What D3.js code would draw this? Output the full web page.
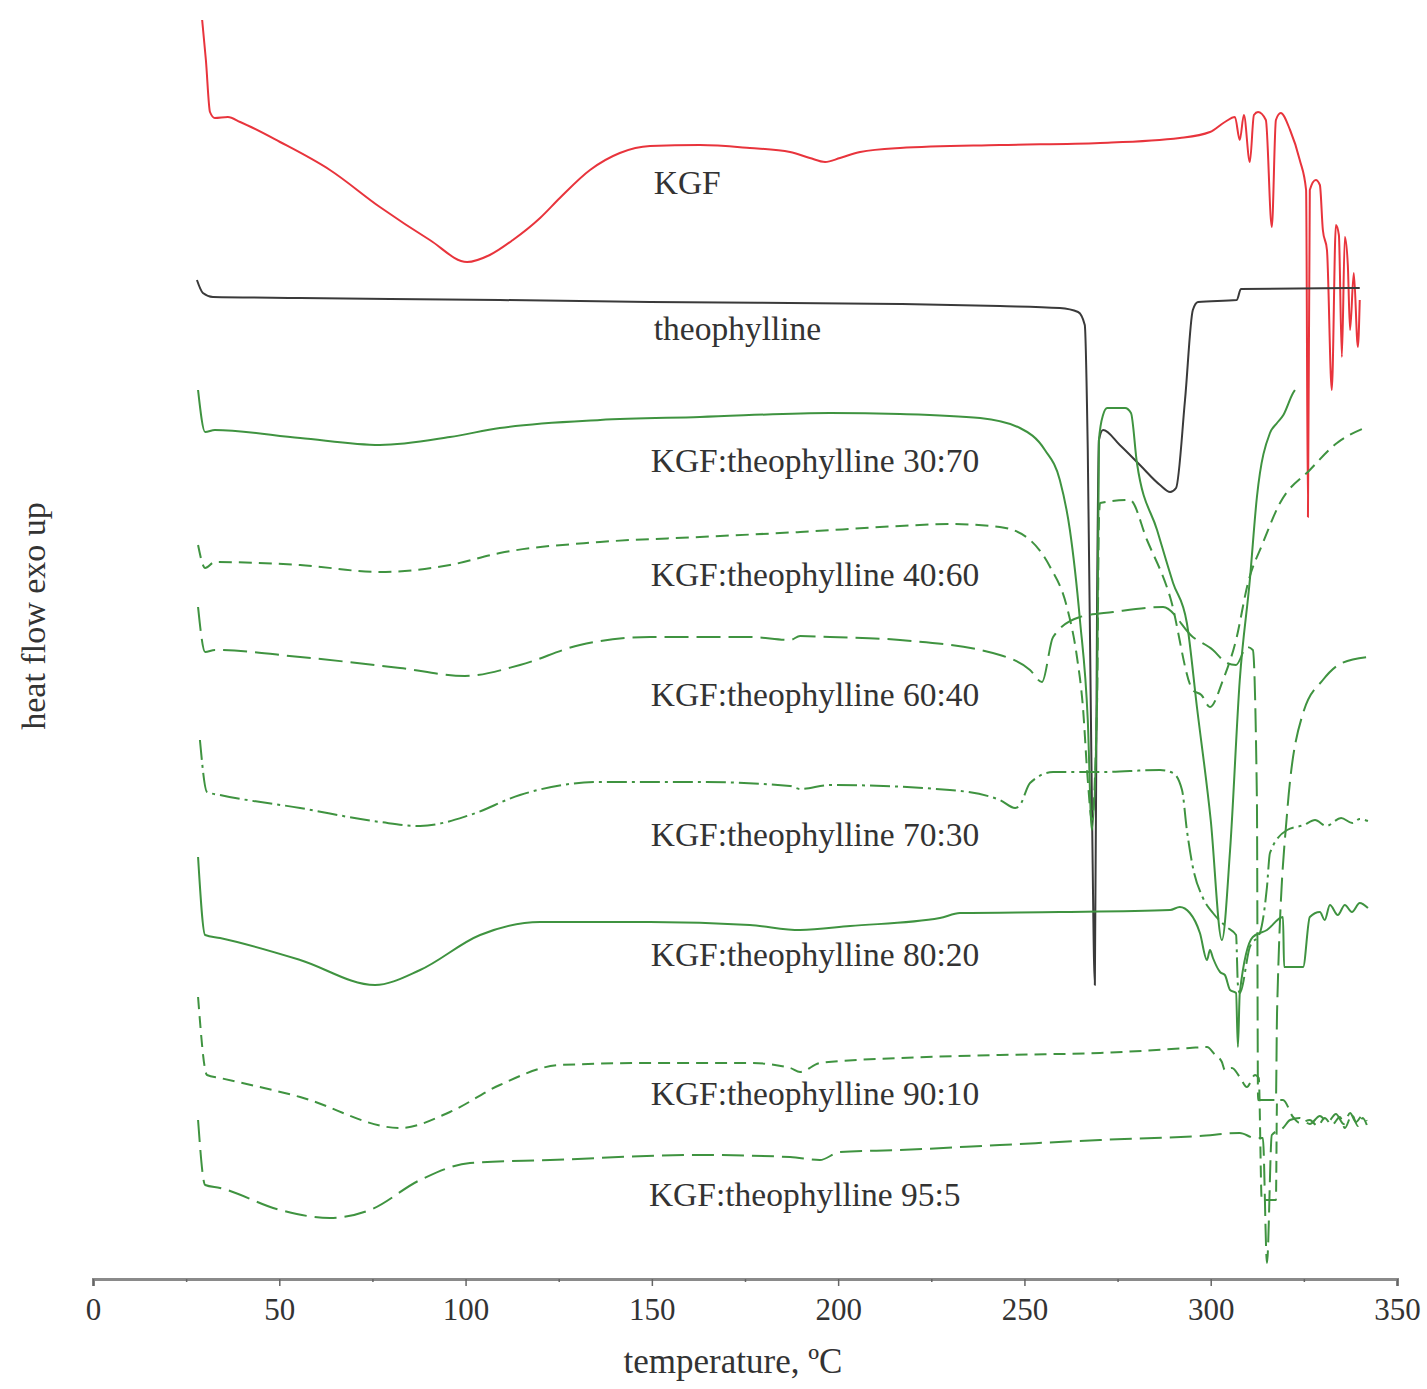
<!DOCTYPE html>
<html>
<head>
<meta charset="utf-8">
<script src="https://cdn.jsdelivr.net/npm/d3@7"></script>
<style>
  html, body { margin: 0; padding: 0; background: #fff; }
  svg { display: block; }
  text { font-family: "Liberation Serif", "Times New Roman", serif; fill: #333; }
</style>
</head>
<body>
<svg id="chart" width="1427" height="1389"></svg>
<script>
// DSC thermograms, heat flow (a.u., curves stacked, exo up) vs temperature (°C)
const xTicks = [0, 50, 100, 150, 200, 250, 300, 350];
const xMinorTicks = [25, 75, 125, 175, 225, 275, 325];

const seriesNames = [
  "KGF", "theophylline",
  "KGF:theophylline 30:70", "KGF:theophylline 40:60", "KGF:theophylline 60:40",
  "KGF:theophylline 70:30", "KGF:theophylline 80:20", "KGF:theophylline 90:10",
  "KGF:theophylline 95:5"
];

const kgf = [
  [29.3,-2.0],[30.3,-6.0],[31.4,-11.2],[32.7,-11.8],[36.2,-11.7],[39.5,-12.2],[50.2,-14.2],[63.6,-17.0],
  [77.0,-20.7],[90.4,-24.0],[100.4,-26.2],[106.5,-25.5],[112.7,-24.0],[120.0,-21.8],[125.3,-19.8],
  [133.4,-17.0],[141.4,-15.3],[149.5,-14.6],[162.9,-14.5],[176.3,-14.8],[187.1,-15.2],[192.4,-15.8],
  [196.5,-16.2],[200.5,-15.8],[205.9,-15.2],[216.6,-14.8],[243.4,-14.5],[270.3,-14.3],[291.7,-13.8],
  [299.8,-13.2],[303.8,-12.2],[306.5,-11.7],[307.8,-14.0],[308.9,-11.5],[310.5,-16.2],[311.6,-11.5],
  [312.7,-11.2],[314.8,-12.0],[316.4,-22.7],[317.5,-12.0],[318.8,-11.3],[321.3,-13.0],[323.9,-16.0],
  [325.6,-19.0],[326.1,-51.7],[326.6,-19.0],[328.2,-18.0],[329.3,-18.5],[330.1,-23.0],[331.2,-25.0],
  [332.5,-39.0],[333.6,-22.5],[334.4,-23.5],[335.2,-35.7],[336.0,-23.7],[336.8,-26.5],[337.4,-33.0],
  [338.4,-27.3],[339.5,-34.7],[340.0,-30.0]
];

const theophylline = [
  [27.9,-28.0],[29.5,-29.3],[32.2,-29.7],[55.6,-29.8],[109.2,-30.0],[149.5,-30.2],[216.6,-30.4],
  [243.4,-30.6],[259.5,-30.8],[264.4,-31.2],[266.2,-32.5],[267.0,-45.0],[268.1,-80.0],[268.9,-98.5],
  [269.5,-60.0],[270.0,-44.0],[271.1,-43.0],[275.6,-44.5],[281.0,-46.5],[286.4,-48.5],[289.1,-49.2],
  [290.7,-48.8],[293.1,-40.0],[295.2,-31.0],[296.6,-30.2],[307.0,-30.0],[308.1,-28.9],[340.0,-28.8]
];

const mix3070 = [
  [28.2,-39.0],[30.1,-43.2],[32.7,-43.0],[55.6,-43.8],[77.0,-44.5],[95.8,-43.7],[109.2,-42.8],
  [136.1,-42.0],[162.9,-41.7],[197.8,-41.3],[216.6,-41.4],[238.1,-41.8],[248.8,-42.8],[255.5,-45.0],
  [259.5,-48.0],[262.2,-53.0],[264.9,-62.0],[267.0,-72.0],[268.1,-83.0],[269.5,-70.0],[270.0,-44.0],
  [271.1,-41.5],[272.2,-40.8],[277.0,-40.8],[278.6,-41.3],[280.2,-46.3],[285.6,-53.0],[289.9,-58.3],
  [293.6,-62.3],[296.3,-70.7],[300.0,-82.0],[303.0,-94.0],[305.2,-85.0],[307.8,-68.0],[310.5,-58.0],
  [312.4,-49.7],[315.9,-43.3],[317.8,-42.3],[319.5,-41.5],[322.1,-39.3],[322.6,-39.0]
];

const mix4060 = [
  [28.2,-54.5],[30.1,-56.8],[32.7,-56.2],[55.6,-56.5],[77.0,-57.2],[95.8,-56.5],[109.2,-55.3],
  [136.1,-54.2],[162.9,-53.7],[189.8,-53.2],[216.6,-52.6],[230.0,-52.4],[243.4,-52.7],[251.5,-54.0],
  [256.9,-56.7],[261.4,-60.7],[264.1,-65.7],[265.7,-70.7],[267.0,-78.0],[268.1,-82.0],[269.5,-70.0],
  [270.0,-52.0],[270.3,-50.3],[278.3,-50.0],[282.9,-54.0],[289.1,-59.7],[295.2,-69.0],[297.5,-69.5],
  [299.8,-70.7],[303.3,-68.0],[306.8,-64.0],[310.0,-58.3],[314.0,-54.3],[318.6,-50.3],[326.6,-47.0],
  [333.9,-44.3],[341.9,-42.7]
];

const mix6040 = [
  [28.2,-60.7],[30.1,-65.2],[32.7,-65.0],[55.6,-65.7],[82.4,-66.8],[99.8,-67.6],[114.6,-66.5],
  [130.7,-64.5],[149.5,-63.7],[176.3,-63.7],[187.1,-64.0],[189.8,-63.6],[197.8,-63.7],[216.6,-64.0],
  [243.4,-65.5],[251.5,-67.0],[254.7,-68.2],[257.7,-63.7],[264.9,-61.7],[273.8,-61.2],[287.2,-60.7],
  [295.2,-63.7],[300.6,-65.0],[304.3,-66.3],[306.8,-66.5],[309.7,-64.7],[311.3,-65.0],[312.4,-80.0],
  [312.7,-110.0],[317.5,-110.0],[317.8,-101.3],[320.5,-81.3],[324.8,-71.3],[330.1,-68.0],
  [335.2,-66.3],[342.2,-65.7]
];

const mix7030 = [
  [28.7,-74.0],[30.6,-79.2],[34.1,-79.5],[55.6,-80.8],[77.0,-82.2],[87.8,-82.6],[101.2,-81.5],
  [114.6,-79.5],[136.1,-78.2],[162.9,-78.2],[187.1,-78.6],[189.8,-78.9],[197.8,-78.5],[230.0,-79.0],
  [243.4,-80.0],[247.5,-80.8],[248.8,-80.5],[251.5,-78.3],[257.7,-77.2],[270.3,-77.2],[286.4,-77.0],
  [289.9,-77.3],[292.3,-79.0],[293.6,-83.0],[295.2,-86.7],[297.8,-89.7],[300.6,-91.3],[304.3,-92.7],
  [306.8,-93.5],[307.3,-98.5],[307.8,-99.3],[310.5,-94.7],[313.2,-93.3],[315.1,-88.7],[315.9,-85.3],
  [320.5,-83.0],[325.0,-82.5],[328.0,-82.0],[331.0,-82.6],[335.0,-81.8],[338.0,-82.3],[340.0,-81.9],
  [342.2,-82.1]
];

const mix8020 = [
  [28.2,-85.7],[30.1,-93.5],[34.1,-93.8],[55.6,-96.0],[75.7,-98.5],[87.8,-97.0],[103.9,-93.5],
  [120.0,-92.2],[149.5,-92.2],[176.3,-92.5],[189.8,-93.0],[203.2,-92.6],[227.3,-91.8],[232.7,-91.3],
  [259.5,-91.2],[289.1,-91.0],[291.7,-90.7],[294.4,-91.3],[297.1,-93.3],[299.0,-96.0],[299.8,-95.0],
  [300.6,-95.8],[302.5,-97.2],[303.8,-97.5],[305.2,-99.0],[306.8,-99.3],[307.3,-104.7],[307.8,-99.3],
  [311.3,-93.7],[315.1,-93.0],[319.4,-91.7],[319.7,-96.7],[324.8,-96.7],[326.6,-91.7],[329.3,-91.2],
  [330.6,-92.0],[332.0,-90.5],[334.1,-91.5],[336.0,-90.5],[337.9,-91.2],[340.0,-90.3],[342.2,-90.8]
];

const mix9010 = [
  [28.2,-99.7],[30.6,-107.5],[34.1,-107.8],[55.6,-109.7],[82.4,-112.8],[95.8,-111.2],[109.2,-108.5],
  [125.3,-106.5],[149.5,-106.3],[176.3,-106.3],[187.1,-106.8],[189.8,-107.2],[195.1,-106.3],
  [216.6,-105.8],[243.4,-105.5],[270.3,-105.3],[294.4,-104.8],[299.0,-104.7],[301.2,-105.5],
  [303.0,-106.2],[303.8,-107.0],[305.7,-106.8],[307.8,-107.7],[309.7,-108.7],[311.9,-107.5],
  [312.9,-107.8],[313.7,-120.0],[317.5,-120.0],[317.8,-110.0],[319.4,-110.0],[322.1,-111.7],
  [323.9,-112.3],[326.6,-112.0],[328.7,-112.6],[330.6,-111.8],[332.5,-112.5],[334.7,-111.7],
  [336.0,-112.8],[337.9,-111.5],[339.5,-112.6],[340.8,-111.8],[341.9,-112.5]
];

const mix955 = [
  [28.2,-112.0],[30.1,-118.5],[34.1,-118.8],[50.2,-121.0],[63.6,-121.8],[74.3,-121.0],[87.8,-118.0],
  [101.2,-116.3],[122.7,-116.0],[162.9,-115.5],[187.1,-115.7],[195.1,-116.0],[200.5,-115.2],
  [216.6,-115.0],[243.4,-114.5],[270.3,-114.0],[297.1,-113.6],[307.8,-113.3],[311.9,-113.8],
  [314.0,-113.8],[315.1,-126.3],[316.4,-113.5],[319.4,-112.8],[321.3,-112.0],[323.9,-111.8],
  [326.6,-112.4],[329.3,-111.6],[331.4,-112.2],[333.6,-111.4],[335.7,-112.4],[337.4,-111.3],
  [339.0,-112.2],[340.6,-111.6],[341.9,-112.1]
];

const seriesData = [kgf, theophylline, mix3070, mix4060, mix6040, mix7030, mix8020, mix9010, mix955];
const seriesColors = ["#e8343c", "#3a3a3a", "#3f9340", "#3f9340", "#3f9340", "#3f9340", "#3f9340", "#3f9340", "#3f9340"];
const seriesDash = [null, null, null, "13,7", "24,8", "20,5,3,5", null, "12,7", "22,8"];
// label anchors: [temperature, heat flow]
const labelPos = [
  [150.5,-19.4], [150.5,-34.0], [149.7,-47.2], [149.7,-58.6], [149.7,-70.6],
  [149.7,-84.6], [149.7,-96.6], [149.7,-110.5], [149.2,-120.6]
];

const svg = d3.select("#chart");
const x = d3.scaleLinear().domain([0, 350]).range([93, 1397]);
const y = d3.scaleLinear().domain([-127.9, 0]).range([1279, 0]);

const line = d3.line()
  .x(d => x(d[0]))
  .y(d => y(d[1]))
  .curve(d3.curveMonotoneX);

const curves = svg.append("g");
seriesData.forEach((data, i) => {
  curves.append("path")
    .datum(data)
    .attr("d", line)
    .attr("fill", "none")
    .attr("stroke", seriesColors[i])
    .attr("stroke-width", 2)
    .attr("stroke-linejoin", "round")
    .attr("stroke-dasharray", seriesDash[i]);
});

// curve labels
svg.append("g").selectAll("text")
  .data(seriesNames)
  .join("text")
  .attr("x", (d, i) => x(labelPos[i][0]))
  .attr("y", (d, i) => y(labelPos[i][1]))
  .attr("font-size", 33.5)
  .text(d => d);

// x axis
const axisY = y(-127.9);
const gx = svg.append("g").attr("transform", `translate(0,${axisY})`);
gx.call(d3.axisBottom(x).tickValues(xTicks).tickSize(7).tickPadding(12).tickFormat(d3.format("d")));
gx.select(".domain").attr("stroke", "#8a8a8a").attr("stroke-width", 3);
gx.selectAll(".tick line").attr("stroke", "#666").attr("stroke-width", 1.5);
gx.selectAll(".tick text")
  .attr("font-size", 31)
  .attr("fill", "#333")
  .style("font-family", '"Liberation Serif", "Times New Roman", serif');

const gMinor = svg.append("g").attr("transform", `translate(0,${axisY})`);
gMinor.call(d3.axisBottom(x).tickValues(xMinorTicks).tickSize(3).tickFormat(""));
gMinor.select(".domain").remove();
gMinor.selectAll(".tick line").attr("stroke", "#666").attr("stroke-width", 1.5);

// axis titles
svg.append("text")
  .attr("x", 733).attr("y", 1373)
  .attr("text-anchor", "middle")
  .attr("font-size", 35)
  .text("temperature, ºC");

svg.append("text")
  .attr("transform", "translate(45,616) rotate(-90)")
  .attr("text-anchor", "middle")
  .attr("font-size", 34)
  .text("heat flow exo up");
</script>
</body>
</html>
